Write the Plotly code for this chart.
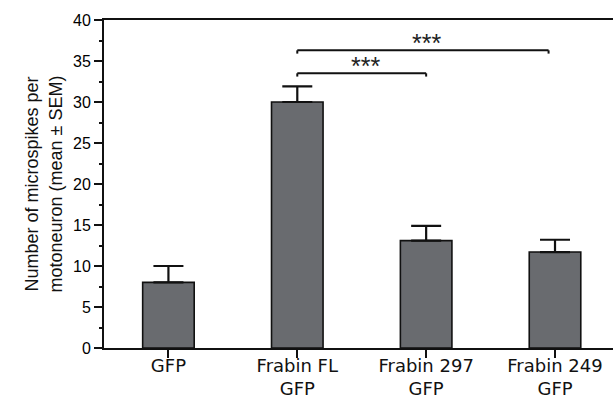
import plotly.graph_objects as go

categories = ["GFP", "Frabin FL<br>GFP", "Frabin 297<br>GFP", "Frabin 249<br>GFP"]
means = [8.0, 30.0, 13.1, 11.7]
sem = [2.0, 1.9, 1.8, 1.5]
y_ticks = [0, 5, 10, 15, 20, 25, 30, 35, 40]

# significance comparisons: (start index, end position, bracket height, label)
comparisons = [
    (1, 2.0, 33.5, "***"),
    (1, 2.95, 36.3, "***"),
]

x_pos = list(range(len(categories)))

fig = go.Figure()
fig.add_trace(go.Bar(
    x=x_pos, y=means,
    width=0.4,
    marker=dict(color="#696b6f", line=dict(color="#111111", width=1.6)),
    error_y=dict(type="data", symmetric=False, array=sem,
                 arrayminus=[0] * len(sem),
                 color="#111111", thickness=2.2, width=15),
))

shapes = []
annotations = []
for x0, x1, h, lab in comparisons:
    shapes.append(dict(type="line", xref="x", yref="y", x0=x0, x1=x1, y0=h, y1=h,
                       line=dict(color="#111111", width=2)))
    for xe in (x0, x1):
        shapes.append(dict(type="line", xref="x", yref="y", x0=xe, x1=xe,
                           y0=h, y1=h - 0.4, line=dict(color="#111111", width=2)))
    annotations.append(dict(x=(x0 + x1) / 2 + 0.03, y=h - 1.1, xref="x", yref="y",
                            text=lab, showarrow=False, yanchor="bottom",
                            font=dict(family="Liberation Sans", size=25, color="#222222")))

fig.update_layout(
    width=613, height=404,
    margin=dict(l=104, r=0, t=20, b=56, autoexpand=False),
    paper_bgcolor="white", plot_bgcolor="white",
    showlegend=False,
    shapes=shapes, annotations=annotations,
    xaxis=dict(
        range=[-0.5, 3.45], automargin=False,
        tickmode="array", tickvals=x_pos, ticktext=categories,
        showline=True, linecolor="#111111", linewidth=2, mirror=True,
        ticks="outside", ticklen=8, tickwidth=2, tickcolor="#111111",
        ticklabelstandoff=-8,
        showgrid=False, zeroline=False,
        tickfont=dict(family="DejaVu Sans", size=18, color="#111111"),
    ),
    yaxis=dict(
        range=[0, 40], automargin=False,
        tickmode="array", tickvals=y_ticks,
        showline=True, linecolor="#111111", linewidth=2,
        ticks="outside", ticklen=8, tickwidth=1.5, tickcolor="#111111",
        minor=dict(dtick=2.5, ticks="outside", ticklen=3, tickwidth=1.5, tickcolor="#111111"),
        showgrid=False, zeroline=False,
        tickfont=dict(family="Liberation Sans", size=16, color="#000000"),
        title=dict(text="Number of microspikes per<br>motoneuron (mean ± SEM)",
                   font=dict(family="Liberation Sans", size=18, color="#111111"),
                   standoff=6),
    ),
)

fig.write_html("out.html", config={"displayModeBar": False},
               post_script="document.body.style.margin='0';")
